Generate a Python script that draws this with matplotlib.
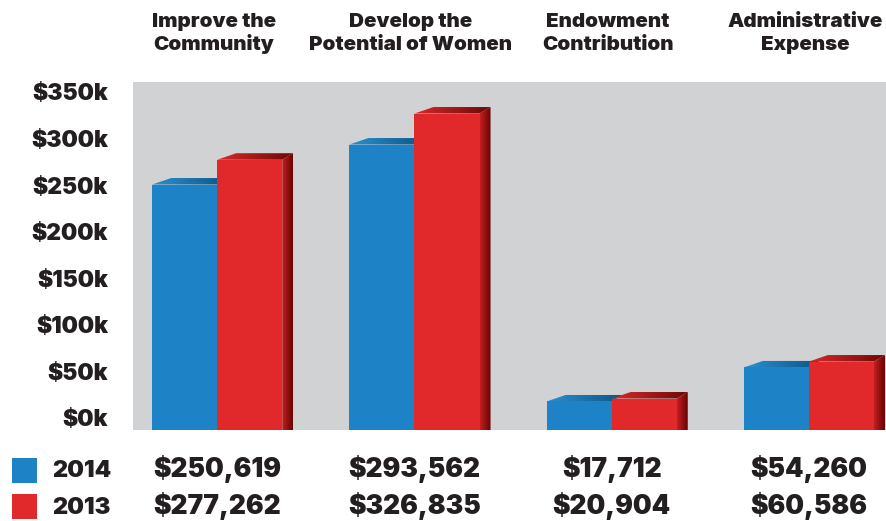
import matplotlib
matplotlib.use("Agg")
import matplotlib.pyplot as plt
import numpy as np
from matplotlib.patches import Polygon, Rectangle
from matplotlib.colors import LinearSegmentedColormap

categories = ["Improve the\nCommunity", "Develop the\nPotential of Women",
              "Endowment\nContribution", "Administrative\nExpense"]
values_2014 = [250619, 293562, 17712, 54260]
values_2013 = [277262, 326835, 20904, 60586]
series_labels = ["2014", "2013"]
tick_values = [0, 50000, 100000, 150000, 200000, 250000, 300000, 350000]
tick_labels = ["$0k", "$50k", "$100k", "$150k", "$200k", "$250k", "$300k", "$350k"]

FONT = ["Inter", "DejaVu Sans"]
TXT = "#231f20"
BLUE = "#1e83c6"
RED = "#e1282a"
BG = "#d1d2d4"

W, H = 886, 521
fig = plt.figure(figsize=(W / 100, H / 100), dpi=100)
ax_l, ax_r, ax_b, ax_t = 133, 886, 430, 82
ax = fig.add_axes([ax_l / W, 1 - ax_b / H, (ax_r - ax_l) / W, (ax_b - ax_t) / H])
ax.set_facecolor(BG)
for s in ax.spines.values():
    s.set_visible(False)

xmin, xmax = -0.427, 3.391
ymin, ymax = -12900, 360700
ax.set_xlim(xmin, xmax)
ax.set_ylim(ymin, ymax)

px_x = (xmax - xmin) / (ax_r - ax_l)
px_y = (ymax - ymin) / (ax_b - ax_t)
width = 0.33
dxl, dxr, dyy = 19 * px_x, 11 * px_x, 6.5 * px_y

x = np.arange(len(categories))


def grad_fill(poly, c0, c1):
    xs = poly[:, 0]; ys = poly[:, 1]
    cmap = LinearSegmentedColormap.from_list("g", [c0, c1])
    img = np.linspace(0, 1, 64).reshape(1, -1)
    im = ax.imshow(img, cmap=cmap, aspect="auto",
                   extent=[xs.min(), xs.max(), ys.min(), ys.max()],
                   origin="lower", zorder=2, interpolation="bilinear")
    p = Polygon(poly, closed=True, facecolor="none", edgecolor="none")
    ax.add_patch(p)
    im.set_clip_path(p)


def bar3d(x0, v, front, top0, top1, side0=None, side1=None):
    x1 = x0 + width
    ax.bar(x0, v - ymin, width=width, bottom=ymin, align="edge",
           color=front, zorder=3, linewidth=0)
    top = np.array([[x0, v], [x1, v], [x1 + dxr, v + dyy], [x0 + dxl, v + dyy]])
    grad_fill(top, top0, top1)
    if side0 is not None:
        side = np.array([[x1, v], [x1 + dxr, v + dyy], [x1 + dxr, ymin], [x1, ymin]])
        grad_fill(side, side0, side1)


for i in range(len(categories)):
    bar3d(x[i] - width, values_2014[i], BLUE, "#2a8fd0", "#0c5585")
    bar3d(x[i], values_2013[i], RED, "#d62a2a", "#6e0707", "#c41f1f", "#680303")

ax.set_xlim(xmin, xmax)
ax.set_ylim(ymin, ymax)

ax.set_yticks(tick_values)
ax.set_yticklabels(tick_labels, fontfamily=FONT, fontweight="black",
                   fontsize=16.5, color=TXT)
ax.tick_params(axis="y", length=0, pad=18)
ax.set_xticks([])

# category headers on top (two lines each)
for i, c in enumerate(categories):
    xd = ax.transData.transform((x[i], 0))[0] / W
    for line, ypx in zip(c.split("\n"), (27, 50)):
        fig.text(xd - 0.004, 1 - ypx / H, line, ha="center", va="baseline",
                 fontfamily=FONT, fontweight="black", fontsize=14.8, color=TXT)

# bottom legend + values
rows = [(series_labels[0], BLUE, values_2014, 477, 458),
        (series_labels[1], RED, values_2013, 514, 494)]
for lab, col, vals, ypx, sq in rows:
    yf = 1 - ypx / H
    fig.patches.append(Rectangle((12 / W, 1 - (sq + 25) / H), 25 / W, 25 / H,
                                 transform=fig.transFigure, facecolor=col,
                                 edgecolor="none"))
    fig.text(52 / W, yf, lab, ha="left", va="baseline", fontfamily=FONT,
             fontweight="black", fontsize=17, color=TXT)
    for i, v in enumerate(vals):
        xd = ax.transData.transform((x[i], 0))[0] / W
        fig.text(xd, yf, "${:,}".format(v), ha="center", va="baseline",
                 fontfamily=FONT, fontweight="black", fontsize=19, color=TXT)

fig.savefig("out.png", dpi=100)
